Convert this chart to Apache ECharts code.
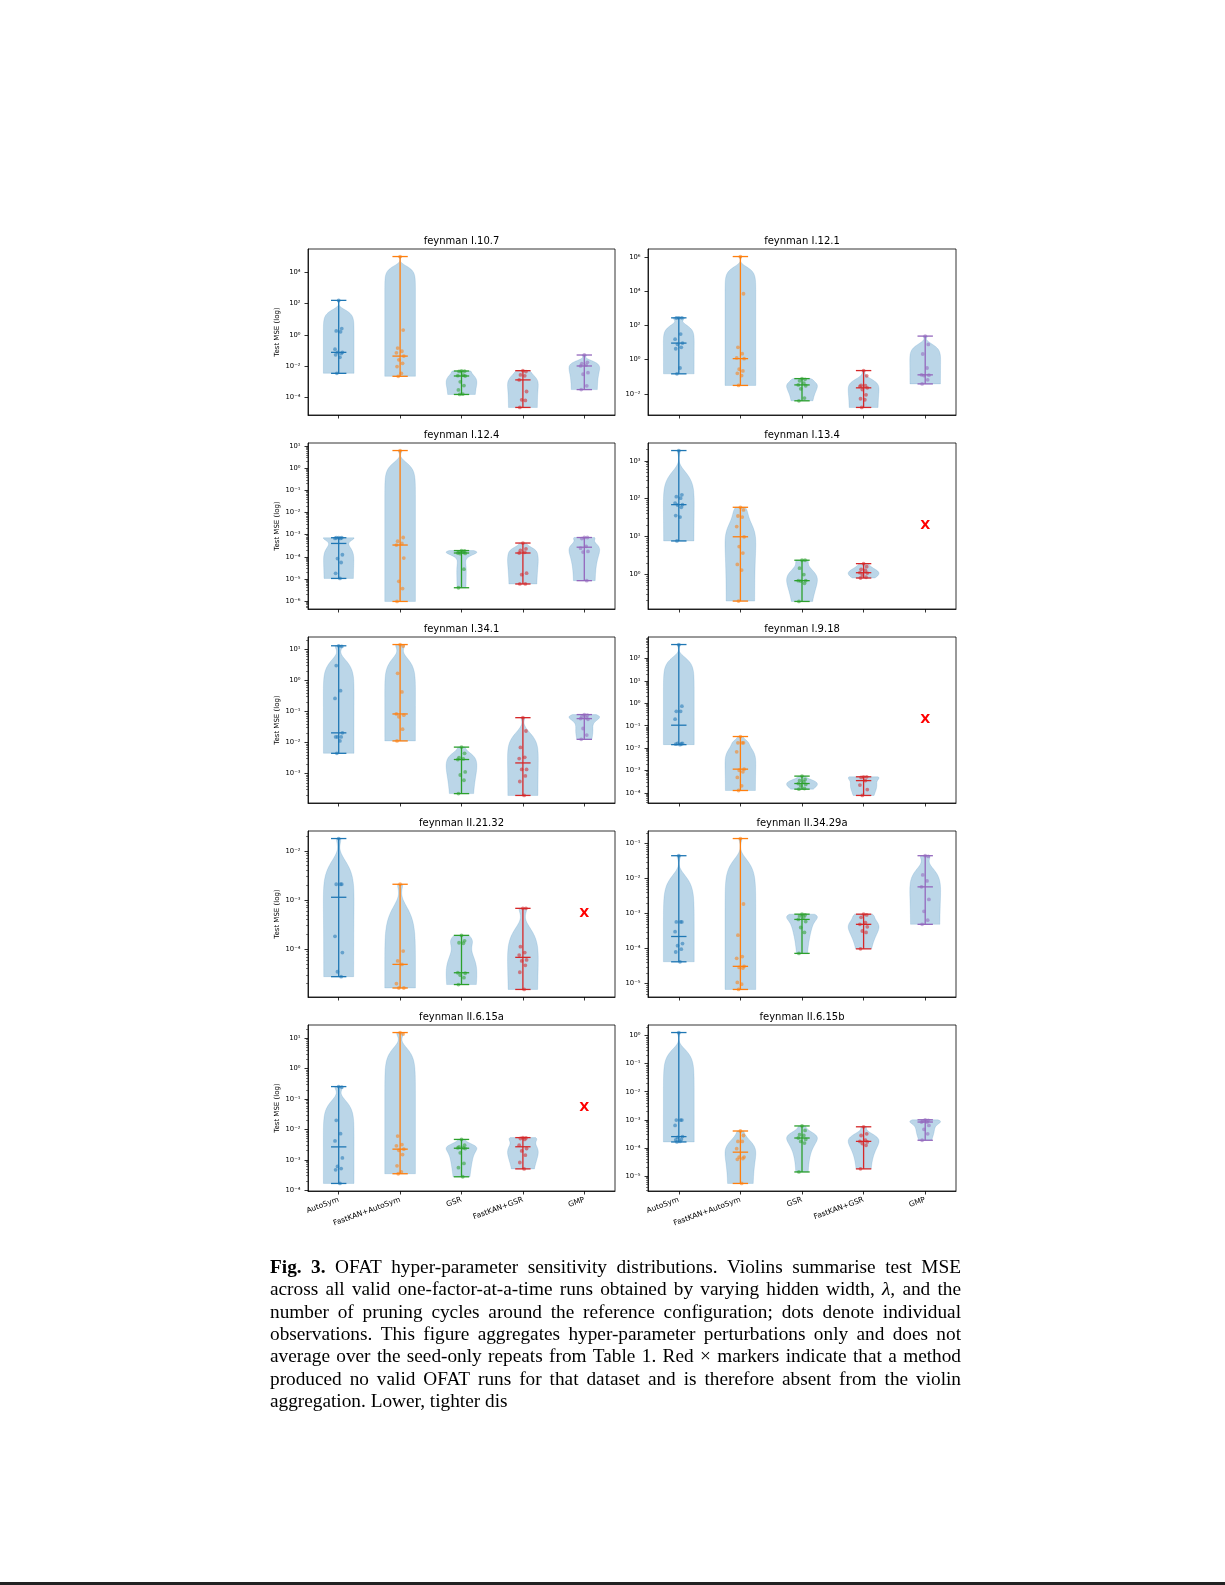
<!DOCTYPE html>
<html><head><meta charset="utf-8">
<script src="https://cdn.jsdelivr.net/npm/echarts@6/dist/echarts.min.js"></script>
<style>html,body{margin:0;padding:0;background:#fff}#c{width:1225px;height:1585px}</style>
</head><body><div id="c"></div>
<script>
// ---------------- DATA ----------------
const methods = ['AutoSym', 'FastKAN+AutoSym', 'GSR', 'FastKAN+GSR', 'GMP'];
const panelTitles = ['feynman I.10.7', 'feynman I.12.1', 'feynman I.12.4', 'feynman I.13.4',
  'feynman I.34.1', 'feynman I.9.18', 'feynman II.21.32', 'feynman II.34.29a',
  'feynman II.6.15a', 'feynman II.6.15b'];
// log10(test MSE) of every valid OFAT run, one list per method (null = no valid runs)
const lg_I_10_7 = [
  [2.20, 0.40, 0.25, 0.19, -0.92, -1.12, -1.12, -1.20, -1.28, -1.44, -2.46],
  [5.00, 0.30, -0.85, -1.05, -1.15, -1.36, -1.60, -1.82, -2.03, -2.46, -2.65],
  [-2.31, -2.32, -2.34, -2.58, -2.61, -2.63, -3.00, -3.24, -3.52, -3.79, -3.81],
  [-2.29, -2.35, -2.56, -2.62, -2.88, -3.62, -4.15, -4.19, -4.64],
  [-1.29, -1.76, -1.84, -1.93, -1.99, -2.42, -2.52, -3.26, -3.50]];
const lg_I_12_1 = [
  [2.45, 2.45, 2.44, 1.50, 1.20, 0.97, 0.90, 0.72, 0.64, -0.49, -0.83],
  [6.04, 3.86, 0.72, 0.35, 0.10, 0.06, -0.56, -0.66, -0.80, -0.93, -1.51],
  [-1.11, -1.15, -1.24, -1.38, -1.48, -1.53, -1.71, -2.25, -2.41],
  [-0.64, -0.95, -1.51, -1.53, -1.57, -1.65, -1.75, -2.06, -2.29, -2.35, -2.80],
  [1.38, 0.89, 0.33, -0.49, -0.89, -0.91, -0.93, -1.18, -1.42]];
const lg_I_12_4 = [
  [-3.14, -3.14, -3.14, -3.17, -3.17, -3.91, -4.08, -4.26, -4.75, -4.98],
  [0.80, -3.13, -3.30, -3.40, -3.47, -4.06, -5.11, -5.44, -6.02],
  [-3.72, -3.74, -3.78, -3.80, -3.83, -3.85, -3.86, -4.56, -5.40],
  [-3.38, -3.64, -3.71, -3.80, -3.83, -4.74, -4.81, -5.23, -5.23],
  [-3.13, -3.13, -3.18, -3.53, -3.61, -3.76, -3.79, -5.08]];
const lg_I_13_4 = [
  [3.27, 2.10, 2.05, 2.01, 1.88, 1.84, 1.83, 1.77, 1.55, 1.51, 0.88],
  [1.77, 1.70, 1.54, 1.51, 1.26, 0.99, 0.73, 0.56, 0.26, 0.11, -0.71],
  [0.37, 0.37, 0.16, -0.01, -0.17, -0.17, -0.18, -0.24, -0.72],
  [0.28, 0.20, 0.13, 0.10, 0.04, 0.03, -0.02, -0.08, -0.10],
  null];
const lg_I_34_1 = [
  [1.12, 1.10, 0.48, -0.33, -0.58, -1.69, -1.82, -1.82, -1.82, -1.95, -2.35],
  [1.16, 1.11, 0.23, -0.37, -1.08, -1.12, -1.17, -1.57, -1.95],
  [-2.15, -2.35, -2.49, -2.53, -2.55, -2.95, -3.05, -3.22, -3.65],
  [-1.20, -1.63, -2.16, -2.48, -2.52, -2.87, -2.87, -3.08, -3.26, -3.71],
  [-1.10, -1.12, -1.17, -1.20, -1.23, -1.25, -1.55, -1.76, -1.90]];
const lg_I_9_18 = [
  [2.61, -0.13, -0.36, -0.36, -0.71, -1.79, -1.79, -1.80, -1.82, -1.84],
  [-1.48, -1.76, -1.76, -1.76, -2.16, -2.93, -2.98, -3.05, -3.30, -3.67, -3.88],
  [-3.24, -3.39, -3.44, -3.50, -3.57, -3.61, -3.67, -3.79, -3.82],
  [-3.27, -3.27, -3.30, -3.44, -3.64, -3.84, -4.10],
  null];
const lg_II_21_32 = [
  [-1.75, -2.68, -2.68, -2.68, -3.74, -4.07, -4.46, -4.56],
  [-2.68, -4.04, -4.24, -4.31, -4.70, -4.79, -4.79],
  [-3.72, -3.83, -3.87, -3.88, -4.48, -4.49, -4.53, -4.58, -4.72],
  [-3.17, -3.17, -3.95, -4.07, -4.12, -4.22, -4.24, -4.33, -4.47, -4.82],
  null];
const lg_II_34_29a = [
  [-1.35, -3.24, -3.24, -3.24, -3.52, -3.86, -3.92, -4.02, -4.10, -4.38],
  [-0.86, -2.73, -3.62, -4.23, -4.28, -4.51, -4.54, -4.56, -4.97, -5.02, -5.17],
  [-3.02, -3.04, -3.07, -3.10, -3.17, -3.23, -3.40, -3.54, -4.14],
  [-3.02, -3.04, -3.11, -3.26, -3.31, -3.38, -3.50, -3.54, -4.01],
  [-1.35, -1.37, -1.90, -2.07, -2.24, -2.60, -2.94, -3.19, -3.31]];
const lg_II_6_15a = [
  [-0.59, -0.61, -1.70, -2.14, -2.38, -2.94, -3.22, -3.29, -3.33, -3.78],
  [1.19, 1.14, -2.22, -2.50, -2.54, -2.65, -2.69, -2.83, -3.20, -3.40, -3.46],
  [-2.33, -2.52, -2.58, -2.61, -2.61, -2.63, -2.77, -3.12, -3.26, -3.56],
  [-2.27, -2.28, -2.30, -2.33, -2.52, -2.63, -2.71, -2.85, -3.09, -3.30],
  null];
const lg_II_6_15b = [
  [0.11, -3.01, -3.01, -3.01, -3.20, -3.60, -3.63, -3.70, -3.72, -3.77, -3.79],
  [-3.40, -3.56, -3.77, -3.77, -4.03, -4.33, -4.33, -4.38, -4.41, -5.27],
  [-3.22, -3.38, -3.53, -3.56, -3.65, -3.70, -3.77, -3.83, -4.86],
  [-3.25, -3.50, -3.56, -3.73, -3.77, -3.79, -3.85, -3.91, -4.75],
  [-3.00, -3.02, -3.05, -3.08, -3.08, -3.20, -3.34, -3.50, -3.73]];
const panels = [lg_I_10_7, lg_I_12_1, lg_I_12_4, lg_I_13_4, lg_I_34_1, lg_I_9_18,
  lg_II_21_32, lg_II_34_29a, lg_II_6_15a, lg_II_6_15b];
const captionLines = [
  'Fig. 3. OFAT hyper-parameter sensitivity distributions. Violins summarise test MSE',
  'across all valid one-factor-at-a-time runs obtained by varying hidden width, \u03bb, and the',
  'number of pruning cycles around the reference configuration; dots denote individual',
  'observations. This figure aggregates hyper-parameter perturbations only and does not',
  'average over the seed-only repeats from Table 1. Red \u00d7 markers indicate that a method',
  'produced no valid OFAT runs for that dataset and is therefore absent from the violin',
  'aggregation. Lower, tighter dis'];

// ---------------- LAYOUT / STYLE ----------------
const COLORS = ['#1f77b4', '#ff7f0e', '#2ca02c', '#d62728', '#9467bd'];
const colLeft = [308, 648], colWidth = [307, 308];
const rowTop = [249, 443, 637, 831, 1025], panelH = 166;
const majorStep = [2, 2, 1, 1, 1, 1, 1, 1, 1, 1];
const JITTER = [0.0, 0.05, -0.04, 0.03, -0.06, 0.06, -0.02, 0.04, -0.05, 0.02, -0.03, 0.055];
const FONT = 'DejaVu Sans';
const SUP = {'-': '\u207b', '0': '\u2070', '1': '\u00b9', '2': '\u00b2', '3': '\u00b3', '4': '\u2074',
  '5': '\u2075', '6': '\u2076', '7': '\u2077', '8': '\u2078', '9': '\u2079'};
function fmtPow(v) { const n = Math.round(v); return '10' + String(n).split('').map(c => SUP[c]).join(''); }

function violinStats(lg) {
  const x = lg.map(v => Math.pow(10, v));
  const n = x.length;
  const mean = x.reduce((a, b) => a + b, 0) / n;
  const sd = Math.sqrt(x.reduce((a, b) => a + (b - mean) * (b - mean), 0) / (n - 1));
  const bw = sd * Math.pow(n, -0.2);
  const mn = Math.min(...x), mx = Math.max(...x);
  const coords = [], vals = [];
  for (let i = 0; i < 100; i++) {
    const c = mn + (mx - mn) * i / 99;
    let s = 0;
    for (const xi of x) { const z = (c - xi) / bw; s += Math.exp(-0.5 * z * z); }
    coords.push(c); vals.push(s);
  }
  const vmax = Math.max(...vals);
  const s = x.slice().sort((a, b) => a - b);
  const med = n % 2 ? s[(n - 1) / 2] : (s[n / 2 - 1] + s[n / 2]) / 2;
  return { lc: coords.map(Math.log10), w: vals.map(v => 0.25 * v / vmax),
    lmin: Math.log10(mn), lmax: Math.log10(mx), lmed: Math.log10(med), lg: lg };
}

const grids = [], xAxes = [], yAxes = [], series = [], graphics = [];
panels.forEach((groups, k) => {
  const row = Math.floor(k / 2), col = k % 2;
  const all = [].concat(...groups.filter(g => g));
  const lo0 = Math.min(...all), hi0 = Math.max(...all), R = hi0 - lo0;
  const lo = lo0 - 0.05 * R, hi = hi0 + 0.05 * R;
  const step = majorStep[k];
  const majors = [], minors = [];
  for (let n = Math.ceil(lo); n <= Math.floor(hi); n++) if (n % step === 0) majors.push(n);
  if (step === 1) {
    for (let n = Math.floor(lo); n <= Math.floor(hi); n++)
      for (let m = 2; m <= 9; m++) { const v = n + Math.log10(m); if (v >= lo && v <= hi) minors.push(v); }
  }
  grids.push({ left: colLeft[col], top: rowTop[row], width: colWidth[col], height: panelH,
    show: true, borderColor: '#000', borderWidth: 0.8, backgroundColor: 'transparent',
    containLabel: false, outerBoundsMode: 'none' });
  xAxes.push({ type: 'category', gridIndex: k, data: methods, boundaryGap: true, position: 'bottom',
    axisLine: { show: true, onZero: false, lineStyle: { color: '#000', width: 0.8 } },
    axisTick: { show: true, alignWithLabel: true, length: 3.5, lineStyle: { color: '#000', width: 0.8 } },
    axisLabel: { show: row === 4, rotate: 20, interval: 0, fontSize: 7.5, color: '#000', margin: 8.5, fontFamily: FONT },
    splitLine: { show: false } });
  const yi = yAxes.length;
  yAxes.push({ type: 'value', gridIndex: k, min: lo, max: hi,
    axisLine: { show: true, onZero: false, lineStyle: { color: '#000', width: 0.8 } },
    axisTick: { show: true, length: 3.5, lineStyle: { color: '#000', width: 0.8 }, customValues: majors },
    axisLabel: { show: true, customValues: majors, formatter: fmtPow, fontSize: 6.8, color: '#000', margin: 7.5, fontFamily: FONT },
    splitLine: { show: false },
    name: col === 0 ? 'Test MSE (log)' : '', nameLocation: 'middle', nameRotate: 90, nameGap: 27,
    nameTextStyle: { fontSize: 7, color: '#000', fontFamily: FONT } });
  if (minors.length) {
    yAxes.push({ type: 'value', gridIndex: k, min: lo, max: hi, position: 'left',
      axisLine: { show: false, onZero: false }, axisLabel: { show: false }, splitLine: { show: false },
      axisTick: { show: true, length: 2, lineStyle: { color: '#000', width: 0.5 }, customValues: minors } });
  }
  const stats = groups.map(g => g ? violinStats(g) : null);
  const mid = (lo + hi) / 2;
  series.push({ type: 'custom', xAxisIndex: k, yAxisIndex: yi, silent: true, z: 5,
    data: methods.map((m, i) => [i, mid]), encode: { x: 0, y: 1 },
    renderItem: function (params, api) {
      const gi = params.dataIndex, s = stats[gi];
      if (!s) {
        const p = api.coord([gi, mid]);
        return { type: 'text', x: p[0], y: p[1], style: { text: 'X', fill: '#ff0000',
          font: 'bold 13px "DejaVu Sans"', align: 'center', verticalAlign: 'middle' } };
      }
      const unit = api.size([1, 0])[0];
      const L = [], Rr = [];
      for (let i = 0; i < s.lc.length; i++) {
        const p = api.coord([gi, s.lc[i]]);
        L.push([p[0] - s.w[i] * unit, p[1]]); Rr.push([p[0] + s.w[i] * unit, p[1]]);
      }
      const children = [{ type: 'polygon', shape: { points: L.concat(Rr.reverse()) },
        style: { fill: 'rgba(31,119,180,0.3)', stroke: 'rgba(31,119,180,0.25)', lineWidth: 0.6 } }];
      const c = COLORS[gi], h = 0.125 * unit;
      const pMin = api.coord([gi, s.lmin]), pMax = api.coord([gi, s.lmax]), pMed = api.coord([gi, s.lmed]);
      const ls = { stroke: c, lineWidth: 1.3 };
      children.push({ type: 'line', shape: { x1: pMin[0], y1: pMin[1], x2: pMax[0], y2: pMax[1] }, style: ls });
      [pMin, pMax, pMed].forEach(p => children.push({ type: 'line',
        shape: { x1: p[0] - h, y1: p[1], x2: p[0] + h, y2: p[1] }, style: ls }));
      s.lg.forEach((v, j) => {
        const p = api.coord([gi, v]);
        children.push({ type: 'circle', shape: { cx: p[0] + JITTER[j % JITTER.length] * unit, cy: p[1], r: 1.9 },
          style: { fill: c, opacity: 0.55 } });
      });
      return { type: 'group', children };
    } });
  graphics.push({ type: 'text', x: colLeft[col] + colWidth[col] / 2, y: rowTop[row] - 8,
    style: { text: panelTitles[k], font: '10px "DejaVu Sans"', fill: '#000', align: 'center', verticalAlign: 'middle' } });
});

// caption, justified
const capX = 270, capW = 691, capY0 = 1268, capDY = 22.3;
const cv = document.createElement('canvas').getContext('2d');
const fN = '19.3px "Liberation Serif"', fB = 'bold 19.3px "Liberation Serif"', fI = 'italic 19.3px "Liberation Serif"';
captionLines.forEach((line, li) => {
  const words = line.split(' ');
  const fonts = words.map((w, i) => (li === 0 && i < 2) ? fB : (w.indexOf('\u03bb') === 0 ? fI : fN));
  const widths = words.map((w, i) => { cv.font = fonts[i]; return cv.measureText(w).width; });
  const total = widths.reduce((a, b) => a + b, 0);
  cv.font = fN; const sp = cv.measureText(' ').width;
  const gap = (li < captionLines.length - 1) ? (capW - total) / (words.length - 1) : sp;
  let x = capX;
  words.forEach((w, i) => {
    graphics.push({ type: 'text', x: x, y: capY0 + li * capDY,
      style: { text: w, font: fonts[i], fill: '#000', align: 'left', verticalAlign: 'middle' } });
    x += widths[i] + gap;
  });
});
graphics.push({ type: 'rect', shape: { x: 0, y: 1582, width: 1225, height: 3 }, style: { fill: '#222' } });

const chart = echarts.init(document.getElementById('c'), null, { renderer: 'canvas' });
chart.setOption({ animation: false, backgroundColor: '#fff', textStyle: { fontFamily: FONT },
  grid: grids, xAxis: xAxes, yAxis: yAxes, series: series, graphic: graphics });
</script></body></html>
